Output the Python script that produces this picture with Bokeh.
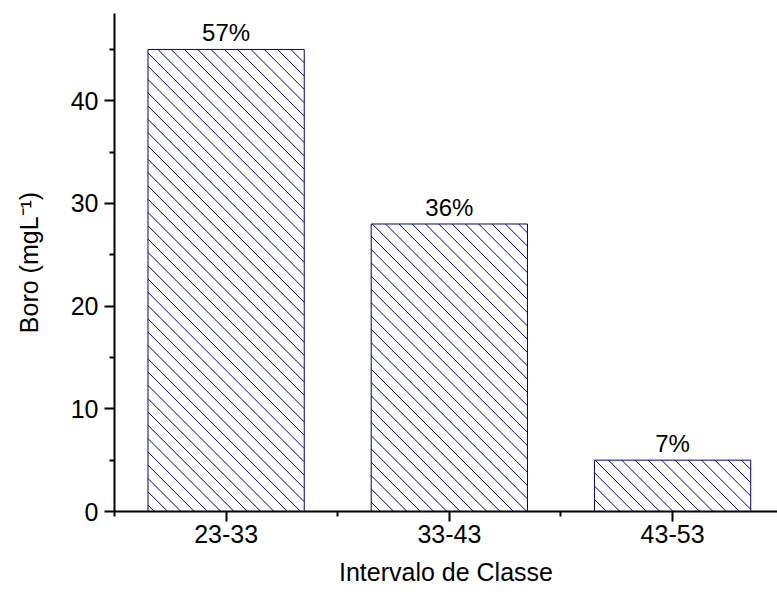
import math
from bokeh.plotting import figure
from bokeh.models import ColumnDataSource, FixedTicker, LabelSet, Range1d
from bokeh.core.properties import value
from bokeh.embed import file_html
from bokeh.resources import INLINE

# Data
categories = ["23-33", "33-43", "43-53"]
boro_values = [45, 28, 5]
percent_labels = ["57%", "36%", "7%"]
y_major_ticks = [0, 10, 20, 30, 40]
y_minor_ticks = [5, 15, 25, 35, 45]

positions = [i + 1 for i in range(len(categories))]
source = ColumnDataSource(dict(x=positions, top=boro_values, label=percent_labels))

FONT = "Liberation Sans"
NAVY = "#000080"

W, H = 777, 595
BORDER_L, BORDER_R, BORDER_T, BORDER_B = 114, 0, 13, 84
X_START, X_END = 0.5, 3.47
Y_START, Y_END = 0, 48.5
BAR_W = 0.7

# --- 45-degree "\" hatch lines, computed from the bar data and the frame scale
KX = (W - BORDER_L - BORDER_R) / (X_END - X_START)   # px per x unit
KY = (H - BORDER_T - BORDER_B) / (Y_END - Y_START)   # px per y unit
SPACING = 13.3                                        # horizontal px between hatch lines
hx0, hy0, hx1, hy1 = [], [], [], []
for cx, top in zip(positions, boro_values):
    u0 = (cx - BAR_W / 2 - X_START) * KX
    u1 = (cx + BAR_W / 2 - X_START) * KX
    v_top = top * KY
    for n in range(math.floor(u0 / SPACING) - 1, math.ceil((u1 + v_top) / SPACING) + 2):
        c = n * SPACING
        ua = max(u0, c - v_top)
        ub = min(u1, c)
        if ub - ua > 0.5:
            hx0.append(X_START + ua / KX); hy0.append((c - ua) / KY)
            hx1.append(X_START + ub / KX); hy1.append((c - ub) / KY)
hatch_src = ColumnDataSource(dict(x0=hx0, y0=hy0, x1=hx1, y1=hy1))

p = figure(width=W, height=H, output_backend="svg", toolbar_location=None,
           x_range=Range1d(X_START, X_END), y_range=Range1d(Y_START, Y_END),
           min_border_left=BORDER_L, min_border_right=BORDER_R,
           min_border_top=BORDER_T, min_border_bottom=BORDER_B)

p.vbar(x="x", top="top", width=BAR_W, bottom=0, source=source,
       fill_color="white", line_color=None)
p.segment(x0="x0", y0="y0", x1="x1", y1="y1", source=hatch_src,
          line_color=NAVY, line_width=1)
p.vbar(x="x", top="top", width=BAR_W, bottom=0, source=source,
       fill_color=None, line_color=NAVY, line_width=1)

labels = LabelSet(x="x", y="top", text="label", source=source,
                  text_align="center", text_baseline="alphabetic", y_offset=8,
                  text_font=value(FONT), text_font_size="24px", text_color="black")
p.add_layout(labels)

p.xgrid.visible = False
p.ygrid.visible = False
p.outline_line_color = None

xa = p.xaxis[0]
xa.ticker = FixedTicker(ticks=positions, minor_ticks=[0.5, 1.5, 2.5, 3.5])
xa.major_label_overrides = {pos: cat for pos, cat in zip(positions, categories)}
xa.axis_label = "Intervalo de Classe"
xa.major_label_standoff = 3
xa.axis_label_standoff = 12

ya = p.yaxis[0]
ya.ticker = FixedTicker(ticks=y_major_ticks, minor_ticks=y_minor_ticks)
ya.axis_label = "Boro (mgL⁻¹)"
ya.major_label_standoff = 6
ya.axis_label_standoff = 25

for ax in (xa, ya):
    ax.axis_line_width = 2
    ax.axis_line_color = "black"
    ax.major_tick_line_width = 2
    ax.minor_tick_line_width = 2
    ax.major_tick_line_color = "black"
    ax.minor_tick_line_color = "black"
    ax.major_tick_out = 10
    ax.major_tick_in = 0
    ax.minor_tick_out = 5
    ax.minor_tick_in = 0
    ax.major_label_text_font = FONT
    ax.major_label_text_font_size = "25px"
    ax.major_label_text_color = "black"
    ax.axis_label_text_font = FONT
    ax.axis_label_text_font_size = "25px"
    ax.axis_label_text_font_style = "normal"
    ax.axis_label_text_color = "black"

open("out.html", "w").write(file_html(p, INLINE))
